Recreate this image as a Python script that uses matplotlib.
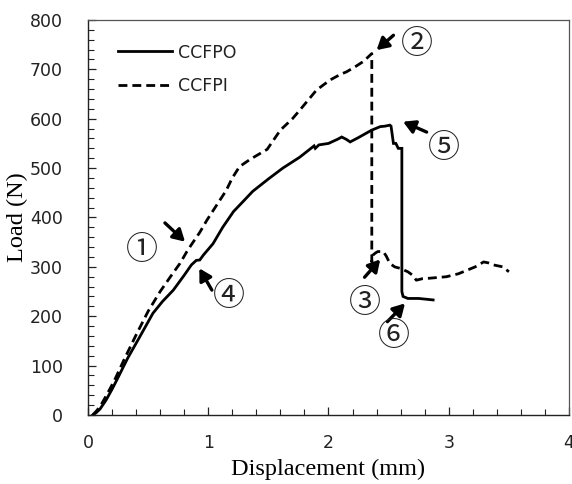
import matplotlib
matplotlib.use("Agg")
import matplotlib.pyplot as plt
from matplotlib.ticker import MultipleLocator

# Load-displacement records of the two specimens
ccfpo_disp = [0.04, 0.07, 0.10, 0.15, 0.20, 0.24, 0.33, 0.43, 0.54, 0.62, 0.71, 0.80,
              0.86, 0.90, 0.93, 0.96, 1.04, 1.12, 1.21, 1.30, 1.37, 1.50, 1.62, 1.76,
              1.88, 1.89, 1.92, 2.00, 2.08, 2.11, 2.15, 2.18, 2.25, 2.36, 2.43, 2.47,
              2.51, 2.52, 2.54, 2.56, 2.58, 2.61, 2.61, 2.62, 2.66, 2.75, 2.87]
ccfpo_load = [0, 5, 12, 30, 52, 71, 115, 158, 206, 230, 253, 283,
              304, 313, 314, 324, 347, 380, 412, 435, 453, 478, 500, 522,
              545, 540, 547, 550, 559, 563, 558, 553, 562, 577, 584, 585,
              587, 585, 550, 550, 540, 540, 250, 240, 236, 236, 233]

ccfpi_disp = [0.04, 0.07, 0.10, 0.15, 0.22, 0.30, 0.40, 0.50, 0.60, 0.70, 0.765, 0.82,
              0.86, 0.93, 0.99, 1.07, 1.15, 1.20, 1.26, 1.35, 1.49, 1.60, 1.70, 1.76,
              1.90, 2.01, 2.10, 2.15, 2.22, 2.29, 2.36, 2.36, 2.37, 2.39, 2.41, 2.455,
              2.48, 2.51, 2.55, 2.595, 2.66, 2.70, 2.73, 2.78, 2.84, 2.98, 3.08, 3.15,
              3.22, 3.29, 3.33, 3.37, 3.45, 3.50]
ccfpi_load = [0, 8, 17, 38, 70, 112, 162, 210, 250, 285, 307, 330,
              345, 370, 395, 425, 455, 480, 503, 518, 538, 577, 600, 617,
              658, 678, 690, 695, 705, 716, 732, 310, 324, 328, 331, 331,
              322, 307, 300, 297, 290, 283, 273, 276, 277, 280, 286, 293,
              300, 310, 308, 304, 300, 290]

series_names = ["CCFPO", "CCFPI"]

# Event markers: label, label position, arrow tail, arrow head
marker_labels = ["\u2460", "\u2461", "\u2462", "\u2463", "\u2464", "\u2465"]
marker_text_xy = [(0.447, 334), (2.738, 751), (2.30, 226), (1.175, 240), (2.96, 540), (2.54, 159)]
marker_tail_xy = [(0.64, 389), (2.54, 769), (2.30, 279), (1.03, 253), (2.816, 573), (2.49, 189)]
marker_head_xy = [(0.807, 351), (2.40, 739), (2.43, 315), (0.926, 297), (2.62, 594), (2.636, 226)]

x_ticks = [0, 1, 2, 3, 4]
y_ticks = [0, 100, 200, 300, 400, 500, 600, 700, 800]

fig = plt.figure(figsize=(5.72, 4.84), dpi=100)
ax = fig.add_axes([0.1538, 0.1426, 0.8410, 0.8161])

ax.plot(ccfpo_disp, ccfpo_load, color="black", lw=2.0, solid_joinstyle="miter",
        label=series_names[0])
ax.plot(ccfpi_disp, ccfpi_load, color="black", lw=2.0, ls=(0, (3.2, 1.8)),
        label=series_names[1])

for lab, txy, tail, head in zip(marker_labels, marker_text_xy, marker_tail_xy, marker_head_xy):
    ax.annotate("", xy=head, xytext=tail,
                arrowprops=dict(arrowstyle="-|>,head_length=0.7,head_width=0.4",
                                color="black", lw=2.4, shrinkA=0, shrinkB=0))
    ax.text(txy[0], txy[1], lab, ha="center", va="center", fontsize=23,
            family=["Noto Sans CJK JP", "DejaVu Sans"], color="#222222")

ax.set_xlim(0, 4)
ax.set_ylim(0, 800)
ax.set_xticks(x_ticks)
ax.set_yticks(y_ticks)
ax.xaxis.set_minor_locator(MultipleLocator(0.2))
ax.yaxis.set_minor_locator(MultipleLocator(20))
ax.tick_params(which="both", direction="in", top=False, right=False, color="#222222")
ax.tick_params(which="major", length=6, width=0.9, labelsize=12.5)
ax.tick_params(axis="x", which="major", pad=14)
ax.tick_params(axis="y", which="major", pad=18)
ax.tick_params(which="minor", length=4, width=0.8)
for lbl in ax.get_xticklabels() + ax.get_yticklabels():
    lbl.set_color("#222222")
for side in ["left", "bottom"]:
    ax.spines[side].set_color("#222222")
    ax.spines[side].set_linewidth(1.0)
for side in ["top", "right"]:
    ax.spines[side].set_color("#555555")
    ax.spines[side].set_linewidth(0.9)

ax.set_xlabel("Displacement (mm)", family="Liberation Serif", fontsize=17.5)
ax.set_ylabel("Load (N)", family="Liberation Serif", fontsize=17.5)
ax.xaxis.set_label_coords(0.5, -0.112)
ax.yaxis.set_label_coords(-0.125, 0.5)

leg = ax.legend(loc="upper left", bbox_to_anchor=(0.03, 0.98), frameon=False,
                fontsize=12.5, handlelength=3.1, handletextpad=0.35, labelspacing=0.9)
for t in leg.get_texts():
    t.set_color("#222222")

fig.savefig("out.png", dpi=100)
